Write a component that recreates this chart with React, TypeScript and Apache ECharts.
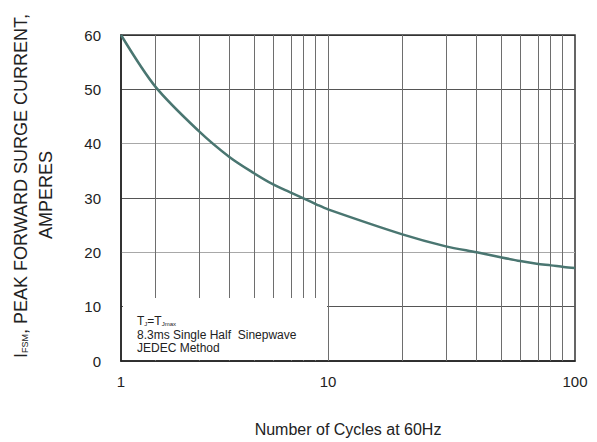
import React, { useEffect, useRef } from "react";
import * as echarts from "echarts";

// Curve (cycles on the log grid, amperes)
const cycles = [1.452, 2, 3, 4, 5, 6, 7, 8, 9, 10, 20, 30, 40, 50, 60, 70, 80, 90, 100];
const current = [60, 50.5, 42.3, 37.5, 34.6, 32.5, 31.1, 29.9, 28.8, 27.9, 23.3, 21.1, 20.0, 19.1, 18.4, 17.9, 17.6, 17.3, 17.1];

// Vertical grid lines (cycles)
const gridCycles = [2, 3, 4, 5, 6, 7, 8, 9, 10, 20, 30, 40, 50, 60, 70, 80, 90];
// X tick labels and where they sit (left edge is labelled "1")
const xTickValues = [1.452, 10, 100];
const xTickLabels = ["1", "10", "100"];
const yMin = 0;
const yMax = 60;
const yInterval = 10;

const FONT = '"Liberation Sans", Arial, Helvetica, sans-serif';

export default function App() {
  const ref = useRef<HTMLDivElement>(null);
  useEffect(() => {
    if (!ref.current) return;
    const chart = echarts.init(ref.current, null, { renderer: "svg" });
    const lx = (v: number) => Math.log10(v);
    const xTickLog = xTickValues.map(lx);
    const option: any = {
      animation: false,
      backgroundColor: "#ffffff",
      grid: {
        left: 121,
        right: 22,
        top: 35,
        bottom: 80,
        show: true,
        borderColor: "#333",
        borderWidth: 1.5,
        backgroundColor: "transparent",
      },
      xAxis: {
        type: "value",
        min: xTickLog[0],
        max: xTickLog[xTickLog.length - 1],
        splitLine: { show: false },
        axisTick: { show: false },
        axisLine: { show: true, onZero: false, lineStyle: { color: "#222", width: 1.5 } },
        axisLabel: {
          customValues: xTickLog,
          showMinLabel: true,
          showMaxLabel: true,
          margin: 13,
          color: "#222",
          fontSize: 15,
          fontFamily: FONT,
          formatter: (v: number) => {
            let best = 0;
            let bd = Infinity;
            xTickLog.forEach((t, i) => {
              const d = Math.abs(t - v);
              if (d < bd) {
                bd = d;
                best = i;
              }
            });
            return xTickLabels[best];
          },
        },
        name: "Number of Cycles at 60Hz",
        nameLocation: "middle",
        nameGap: 60,
        nameTextStyle: { color: "#222", fontSize: 16, fontFamily: FONT },
      },
      yAxis: {
        type: "value",
        min: yMin,
        max: yMax,
        interval: yInterval,
        axisTick: { show: false },
        axisLine: { show: true, lineStyle: { color: "#222", width: 1.5 } },
        axisLabel: { margin: 20, color: "#222", fontSize: 15, fontFamily: FONT },
        splitLine: {
          show: true,
          lineStyle: {
            color: ["#555", "#555", "#a8a8a8", "#555", "#a8a8a8", "#555", "#333"],
            width: 1,
          },
        },
      },
      series: [
        {
          type: "line",
          data: cycles.map((c, i) => [lx(c), current[i]]),
          smooth: 0.3,
          showSymbol: false,
          symbol: "none",
          z: 5,
          lineStyle: { color: "#4a7671", width: 2.5 },
          markLine: {
            silent: true,
            symbol: ["none", "none"],
            label: { show: false },
            lineStyle: { color: "#6e6e6e", width: 1, type: "solid" },
            data: gridCycles.map((g) => ({ xAxis: lx(g) })),
            z: 1,
          },
        },
      ],
      graphic: [
        {
          type: "rect",
          z: 10,
          shape: { x: 123, y: 298, width: 204, height: 62 },
          style: { fill: "#ffffff" },
        },
        {
          type: "text",
          z: 11,
          x: 137,
          y: 321,
          style: {
            text: "{n|T}{s|J}{n|=T}{s|Jmax}",
            align: "left",
            verticalAlign: "middle",
            textAlign: "left",
            textVerticalAlign: "middle",
            rich: {
              n: { fontSize: 12, fontFamily: FONT, fill: "#222", color: "#222", lineHeight: 12, verticalAlign: "bottom" },
              s: { fontSize: 6, fontFamily: FONT, fill: "#222", color: "#222", lineHeight: 6, verticalAlign: "bottom" },
            },
          },
        },
        {
          type: "text",
          z: 11,
          x: 137,
          y: 334.5,
          style: {
            text: "8.3ms Single Half  Sinepwave",
            font: `12px ${FONT}`,
            fill: "#222",
            align: "left",
            verticalAlign: "middle",
            textAlign: "left",
            textVerticalAlign: "middle",
          },
        },
        {
          type: "text",
          z: 11,
          x: 137,
          y: 348,
          style: {
            text: "JEDEC Method",
            font: `12px ${FONT}`,
            fill: "#222",
            align: "left",
            verticalAlign: "middle",
            textAlign: "left",
            textVerticalAlign: "middle",
          },
        },
        {
          type: "text",
          x: 20.5,
          y: 186,
          rotation: Math.PI / 2,
          style: {
            text: "{n|I}{s|FSM}{n|, PEAK FORWARD SURGE CURRENT,}",
            align: "center",
            verticalAlign: "middle",
            textAlign: "center",
            textVerticalAlign: "middle",
            rich: {
              n: { fontSize: 18, fontFamily: FONT, fill: "#222", color: "#222", lineHeight: 18, verticalAlign: "bottom" },
              s: { fontSize: 9, fontFamily: FONT, fill: "#222", color: "#222", lineHeight: 9, verticalAlign: "bottom" },
            },
          },
        },
        {
          type: "text",
          x: 45.5,
          y: 195,
          rotation: Math.PI / 2,
          style: {
            text: "AMPERES",
            font: `18px ${FONT}`,
            fill: "#222",
            align: "center",
            verticalAlign: "middle",
            textAlign: "center",
            textVerticalAlign: "middle",
          },
        },
      ],
    };
    chart.setOption(option);
    return () => chart.dispose();
  }, []);
  return (
    <div
      ref={ref}
      style={{ position: "fixed", left: 0, top: 0, width: 597, height: 442, background: "#fff" }}
    />
  );
}
